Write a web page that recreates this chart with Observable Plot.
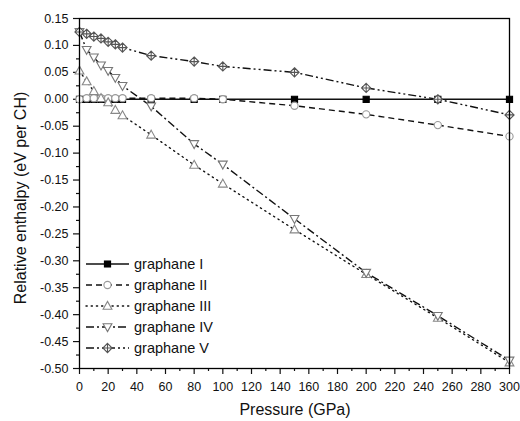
<!DOCTYPE html>
<html><head><meta charset="utf-8">
<script src="https://cdn.jsdelivr.net/npm/d3@7"></script>
<script src="https://cdn.jsdelivr.net/npm/@observablehq/plot@0.6"></script>
<style>
body{margin:0;background:#fff;}
#chart{position:relative;width:520px;height:421px;}
svg{font-family:"Liberation Sans",Arial,sans-serif;}
</style>
</head><body><div id="chart"></div>
<script>
// ---- data ----
const pressure = [0, 5, 10, 15, 20, 25, 30, 50, 80, 100, 150, 200, 250, 300];
const seriesNames = ["graphane I", "graphane II", "graphane III", "graphane IV", "graphane V"];
const graphaneI   = [0, 0, 0, 0, 0, 0, 0, 0, 0, 0, 0, 0, 0, 0];
const graphaneII  = [0.000, 0.002, 0.002, 0.002, 0.002, 0.002, 0.002, 0.002, 0.002, 0.000, -0.012, -0.028, -0.048, -0.069];
const graphaneIII = [0.053, 0.033, 0.015, 0.002, -0.006, -0.020, -0.030, -0.066, -0.122, -0.157, -0.242, -0.325, -0.406, -0.489];
const graphaneIV  = [0.125, 0.092, 0.078, 0.063, 0.053, 0.040, 0.025, -0.013, -0.083, -0.121, -0.222, -0.322, -0.402, -0.485];
const graphaneV   = [0.125, 0.1215, 0.1165, 0.113, 0.1066, 0.102, 0.096, 0.081, 0.070, 0.061, 0.050, 0.021, 0.000, -0.029];
const xTicks = [0, 20, 40, 60, 80, 100, 120, 140, 160, 180, 200, 220, 240, 260, 280, 300];
const xMinorTicks = [10, 30, 50, 70, 90, 110, 130, 150, 170, 190, 210, 230, 250, 270, 290];
const yTicks = [0.15, 0.10, 0.05, 0.00, -0.05, -0.10, -0.15, -0.20, -0.25, -0.30, -0.35, -0.40, -0.45, -0.50];
const yMinorTicks = [0.125, 0.075, 0.025, -0.025, -0.075, -0.125, -0.175, -0.225, -0.275, -0.325, -0.375, -0.425, -0.475];
const xLabel = "Pressure (GPa)";
const yLabel = "Relative enthalpy (eV per CH)";

// ---- symbols ----
const symSquare = {draw(c, size){ const r = Math.sqrt(size/Math.PI)*0.85; c.rect(-r, -r, 2*r, 2*r); }};
const symCircle = {draw(c, size){ const r = Math.sqrt(size/Math.PI); c.moveTo(r,0); c.arc(0,0,r,0,2*Math.PI); c.closePath(); }};
const symUp = {draw(c, size){ const r = Math.sqrt(size/Math.PI); c.moveTo(0,-r*1.05); c.lineTo(r,r*0.75); c.lineTo(-r,r*0.75); c.closePath(); }};
const symDown = {draw(c, size){ const r = Math.sqrt(size/Math.PI); c.moveTo(0,r*1.05); c.lineTo(r,-r*0.75); c.lineTo(-r,-r*0.75); c.closePath(); }};
const symCrossDiamond = {draw(c, size){ const r = Math.sqrt(size/Math.PI);
  c.moveTo(0,-r); c.lineTo(r,0); c.lineTo(0,r); c.lineTo(-r,0); c.closePath();
  c.moveTo(0,-r); c.lineTo(0,r); c.moveTo(-r,0); c.lineTo(r,0); }};

const styles = [
  {vals: graphaneI,   dash: null,            sym: symSquare,       r: 3.6, fill: "#000", stroke: "#000", lw: 1.6, cap: "butt"},
  {vals: graphaneII,  dash: "6,4",           sym: symCircle,       r: 3.6, fill: "#fff", stroke: "#999", lw: 1.4, cap: "butt"},
  {vals: graphaneIII, dash: "1.2,4",         sym: symUp,           r: 4.4, fill: "#fff", stroke: "#888", lw: 1.4, cap: "round"},
  {vals: graphaneIV,  dash: "8,3,2,3",       sym: symDown,         r: 4.4, fill: "#fff", stroke: "#777", lw: 1.4, cap: "butt"},
  {vals: graphaneV,   dash: "8,3,2,3,2,3",   sym: symCrossDiamond, r: 4.6, fill: "#fff", stroke: "#555", lw: 1.4, cap: "butt"}
];

const tables = styles.map((s, i) => pressure.map((p, j) => ({series: seriesNames[i], p, v: s.vals[j]})));

const W = 520, H = 421, ML = 79, MR = 11, MT = 18, MB = 53;
const marks = [
  Plot.axisX({ticks: xMinorTicks, tickSize: 3, tickFormat: () => "", label: null, strokeWidth: 1.2}),
  Plot.axisX({ticks: xTicks, tickSize: 6, tickPadding: 7.5, tickFormat: d => String(d), label: null, fontSize: 12.5, strokeWidth: 1.2}),
  Plot.axisY({ticks: yMinorTicks, tickSize: 3, tickFormat: () => "", label: null, strokeWidth: 1.2}),
  Plot.axisY({ticks: yTicks, tickSize: 6, tickPadding: 5, tickFormat: d => d.toFixed(2), label: null, fontSize: 12.5, strokeWidth: 1.2}),
];
styles.forEach((s, i) => {
  marks.push(Plot.line(tables[i], {x: "p", y: "v", stroke: "#111", strokeWidth: s.lw, strokeDasharray: s.dash, strokeLinecap: s.cap}));
});
styles.forEach((s, i) => {
  marks.push(Plot.dot(tables[i], {x: "p", y: "v", symbol: s.sym, r: s.r, fill: s.fill, stroke: s.stroke, strokeWidth: 1.1}));
});
marks.push(Plot.frame({stroke: "#000", strokeWidth: 1.3}));

const chart = Plot.plot({
  width: W, height: H,
  marginLeft: ML, marginRight: MR, marginTop: MT, marginBottom: MB,
  style: {fontFamily: '"Liberation Sans", Arial, sans-serif', color: "#111", background: "#fff"},
  x: {domain: [0, 300]},
  y: {domain: [-0.5, 0.15]},
  marks
});
document.getElementById("chart").appendChild(chart);

// ---- axis titles and legend ----
const svg = d3.select(chart);
svg.append("text").attr("x", 295).attr("y", 415).attr("text-anchor", "middle")
  .attr("font-size", 16).attr("fill", "#111").text(xLabel);
svg.append("text").attr("transform", `translate(25.5,198) rotate(-90)`).attr("text-anchor", "middle")
  .attr("font-size", 16).attr("fill", "#111").text(yLabel);

const leg = svg.append("g").attr("transform", "translate(86,264)");
styles.forEach((s, i) => {
  const row = leg.append("g").attr("transform", `translate(0,${i * 21})`);
  row.append("line").attr("x1", 0).attr("x2", 43).attr("y1", 0).attr("y2", 0)
    .attr("stroke", "#111").attr("stroke-width", s.lw)
    .attr("stroke-dasharray", s.dash).attr("stroke-linecap", s.cap);
  row.append("path").attr("transform", "translate(21.5,0)")
    .attr("d", d3.symbol().type(s.sym).size(s.r * s.r * Math.PI)())
    .attr("fill", s.fill).attr("stroke", s.stroke).attr("stroke-width", 1.1);
  row.append("text").attr("x", 48).attr("y", 5).attr("text-anchor", "start")
    .attr("font-size", 14.5).attr("fill", "#111").text(seriesNames[i]);
});
</script>
</body></html>
